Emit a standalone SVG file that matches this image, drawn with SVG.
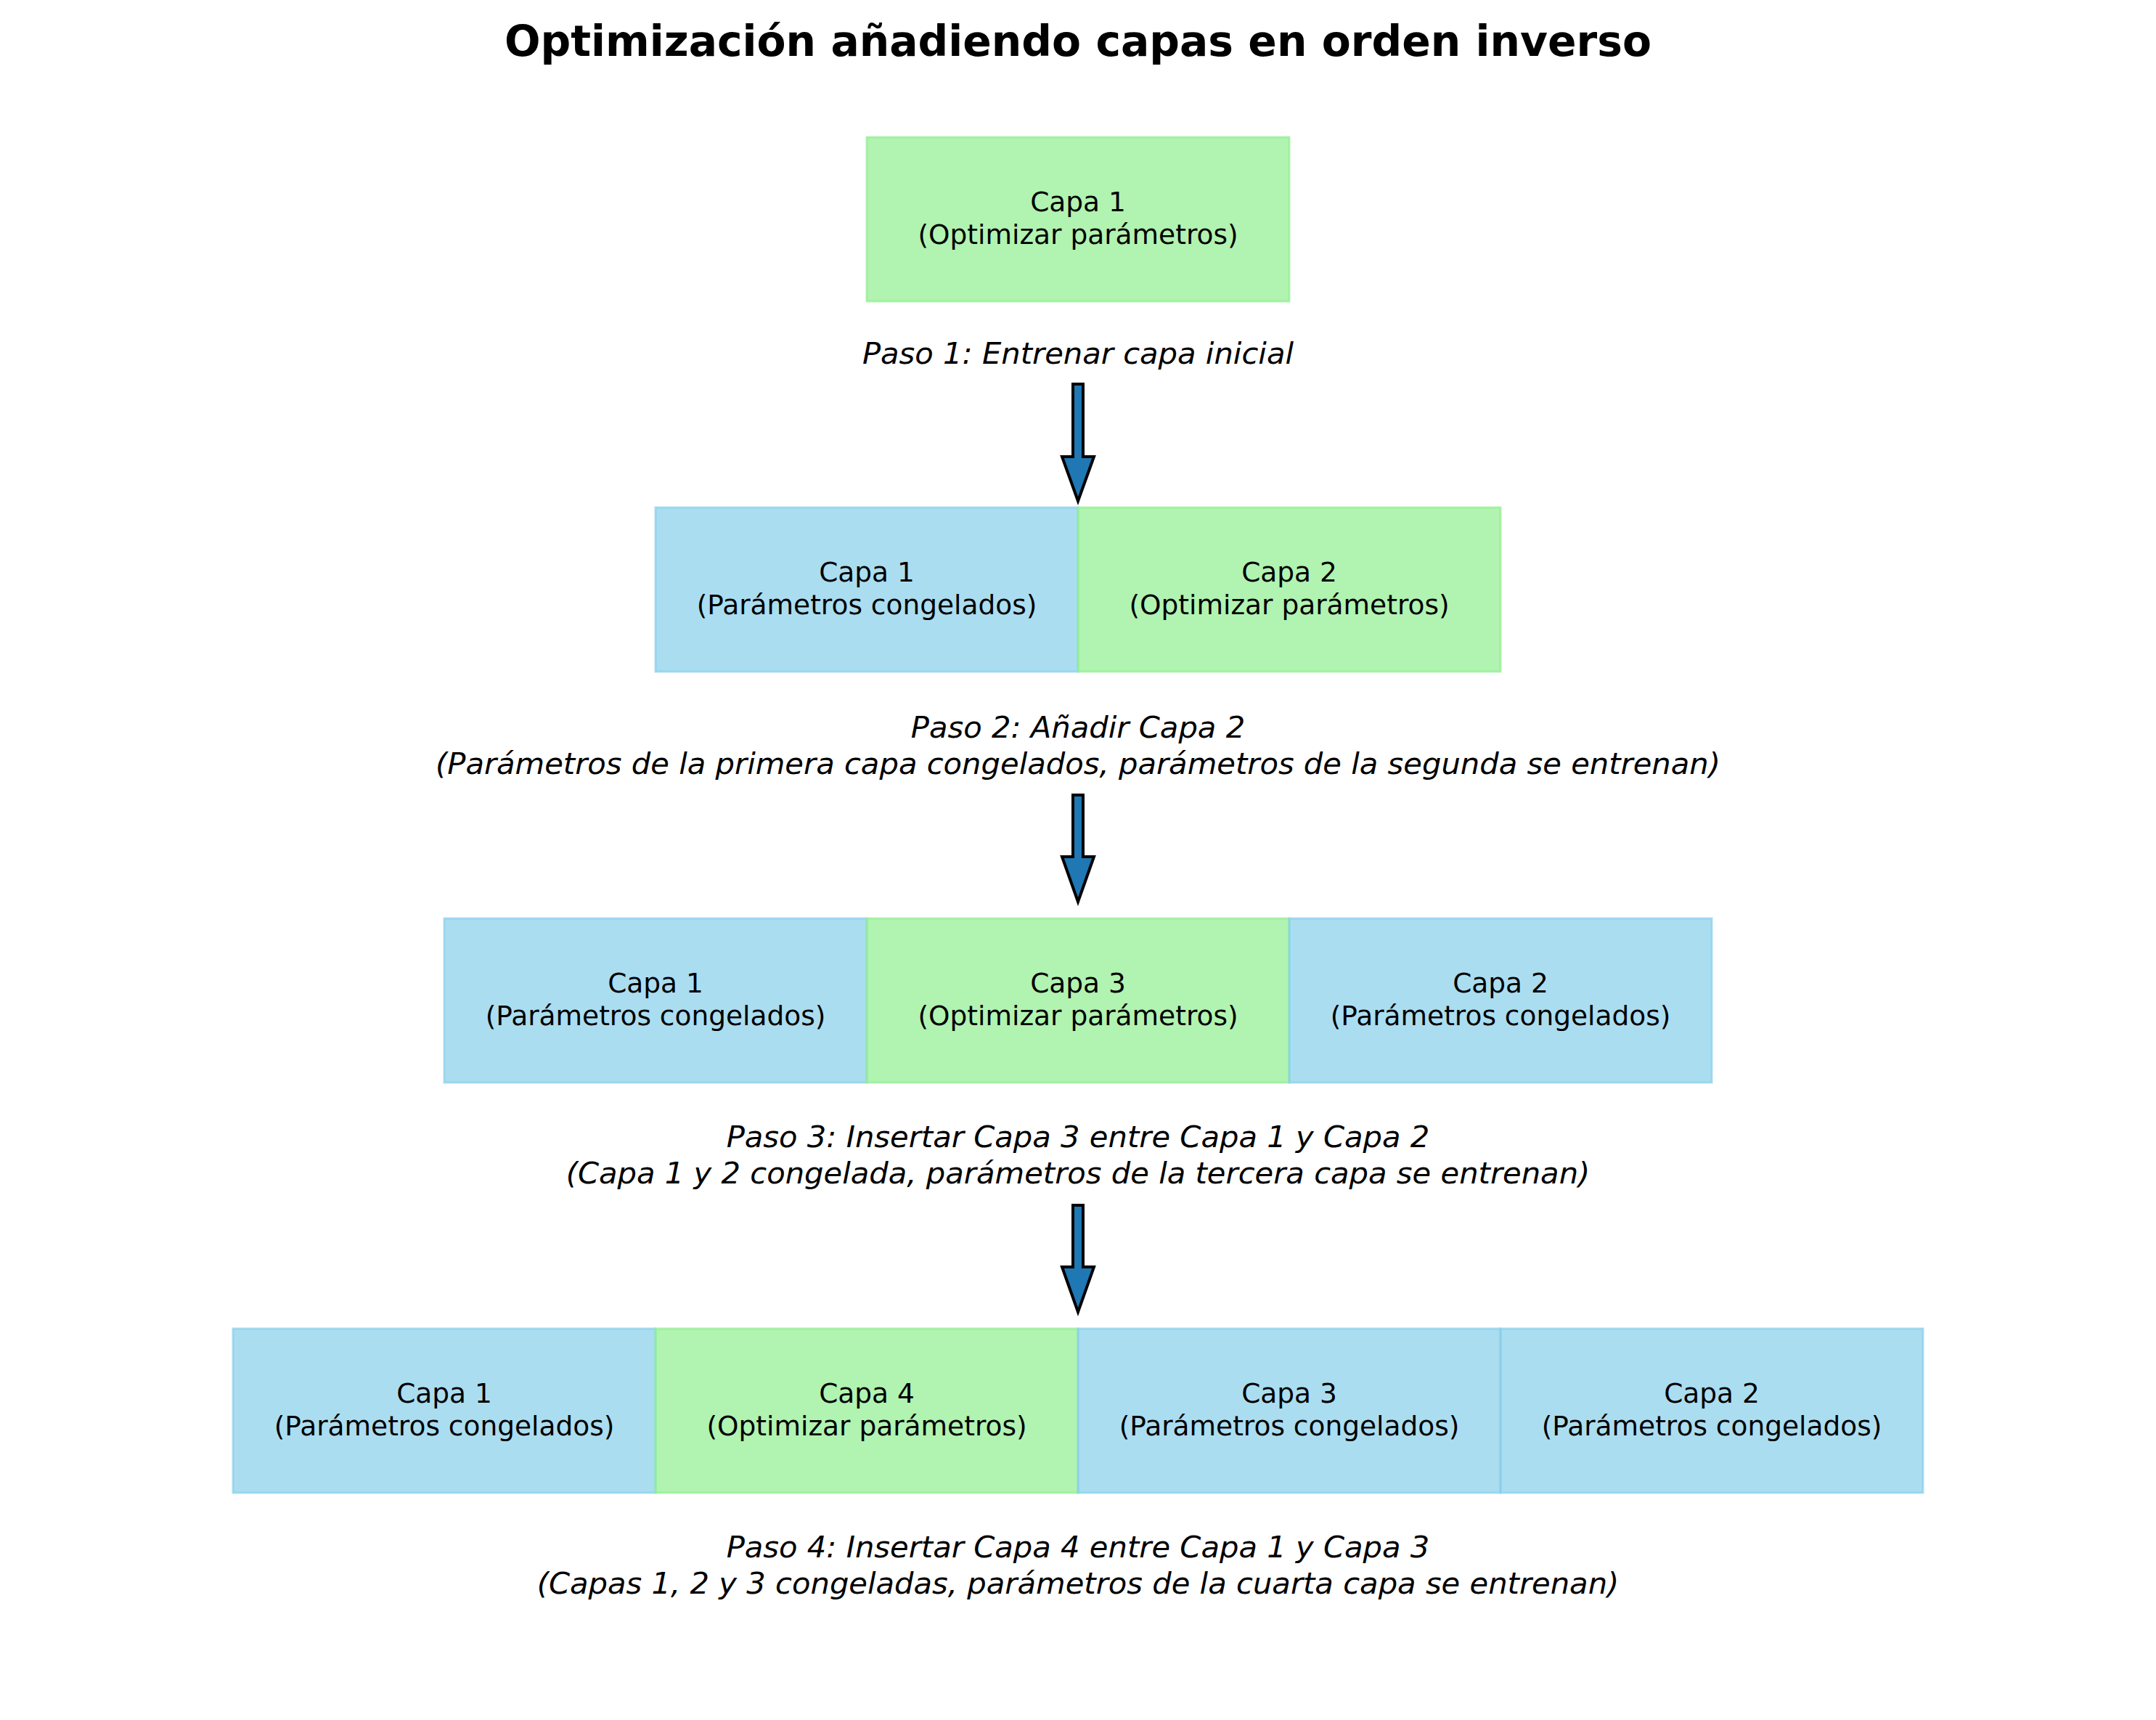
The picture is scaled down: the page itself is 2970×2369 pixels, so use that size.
<svg xmlns="http://www.w3.org/2000/svg" width="2970" height="2369" viewBox="0 0 2970 2369">
<style>
.blue{fill:#87CEEB;fill-opacity:0.7;stroke:#87CEEB;stroke-opacity:0.7;stroke-width:3}
.green{fill:#90EE90;fill-opacity:0.7;stroke:#90EE90;stroke-opacity:0.7;stroke-width:3}
.lbl{font-family:"DejaVu Sans",sans-serif;font-size:37.5px;fill:#000;text-anchor:middle}
.cap{font-family:"DejaVu Sans",sans-serif;font-size:41.7px;font-style:italic;fill:#000;text-anchor:middle}
.title{font-family:"DejaVu Sans",sans-serif;font-size:58.3px;font-weight:bold;fill:#000;text-anchor:middle}
.arrow{fill:#1f77b4;stroke:#000;stroke-width:4;stroke-linejoin:miter;stroke-miterlimit:10}
</style>
<rect width="2970" height="2369" fill="#fff"/>
<text class="title" x="1485" y="77">Optimización añadiendo capas en orden inverso</text>

<g id="paso1">
  <g id="p1-capa1"><rect class="green" x="1194" y="189" width="582" height="226"/>
    <text class="lbl" x="1485" y="291">Capa 1</text><text class="lbl" x="1485" y="336">(Optimizar parámetros)</text></g>
  <text class="cap" x="1485" y="501">Paso 1: Entrenar capa inicial</text>
</g>

<g id="paso2">
  <g id="p2-capa1"><rect class="blue" x="903" y="699" width="582" height="226"/>
    <text class="lbl" x="1194" y="801">Capa 1</text><text class="lbl" x="1194" y="846">(Parámetros congelados)</text></g>
  <g id="p2-capa2"><rect class="green" x="1485" y="699" width="582" height="226"/>
    <text class="lbl" x="1776" y="801">Capa 2</text><text class="lbl" x="1776" y="846">(Optimizar parámetros)</text></g>
  <text class="cap" x="1485" y="1016">Paso 2: Añadir Capa 2</text>
  <text class="cap" x="1485" y="1066">(Parámetros de la primera capa congelados, parámetros de la segunda se entrenan)</text>
</g>

<g id="paso3">
  <g id="p3-capa1"><rect class="blue" x="612" y="1265" width="582" height="226"/>
    <text class="lbl" x="903" y="1367">Capa 1</text><text class="lbl" x="903" y="1412">(Parámetros congelados)</text></g>
  <g id="p3-capa3"><rect class="green" x="1194" y="1265" width="582" height="226"/>
    <text class="lbl" x="1485" y="1367">Capa 3</text><text class="lbl" x="1485" y="1412">(Optimizar parámetros)</text></g>
  <g id="p3-capa2"><rect class="blue" x="1776" y="1265" width="582" height="226"/>
    <text class="lbl" x="2067" y="1367">Capa 2</text><text class="lbl" x="2067" y="1412">(Parámetros congelados)</text></g>
  <text class="cap" x="1485" y="1580">Paso 3: Insertar Capa 3 entre Capa 1 y Capa 2</text>
  <text class="cap" x="1485" y="1630">(Capa 1 y 2 congelada, parámetros de la tercera capa se entrenan)</text>
</g>

<g id="paso4">
  <g id="p4-capa1"><rect class="blue" x="321" y="1830" width="582" height="226"/>
    <text class="lbl" x="612" y="1932">Capa 1</text><text class="lbl" x="612" y="1977">(Parámetros congelados)</text></g>
  <g id="p4-capa4"><rect class="green" x="903" y="1830" width="582" height="226"/>
    <text class="lbl" x="1194" y="1932">Capa 4</text><text class="lbl" x="1194" y="1977">(Optimizar parámetros)</text></g>
  <g id="p4-capa3"><rect class="blue" x="1485" y="1830" width="582" height="226"/>
    <text class="lbl" x="1776" y="1932">Capa 3</text><text class="lbl" x="1776" y="1977">(Parámetros congelados)</text></g>
  <g id="p4-capa2"><rect class="blue" x="2067" y="1830" width="582" height="226"/>
    <text class="lbl" x="2358" y="1932">Capa 2</text><text class="lbl" x="2358" y="1977">(Parámetros congelados)</text></g>
  <text class="cap" x="1485" y="2145">Paso 4: Insertar Capa 4 entre Capa 1 y Capa 3</text>
  <text class="cap" x="1485" y="2195">(Capas 1, 2 y 3 congeladas, parámetros de la cuarta capa se entrenan)</text>
</g>

<g id="connectors">
  <path class="arrow" d="M1478,529 L1492,529 L1492,629 L1507,629 L1485,690 L1463,629 L1478,629 Z"/>
  <path class="arrow" d="M1478,1095 L1492,1095 L1492,1180 L1507,1180 L1485,1242 L1463,1180 L1478,1180 Z"/>
  <path class="arrow" d="M1478,1660 L1492,1660 L1492,1745 L1507,1745 L1485,1807 L1463,1745 L1478,1745 Z"/>
</g>
</svg>
